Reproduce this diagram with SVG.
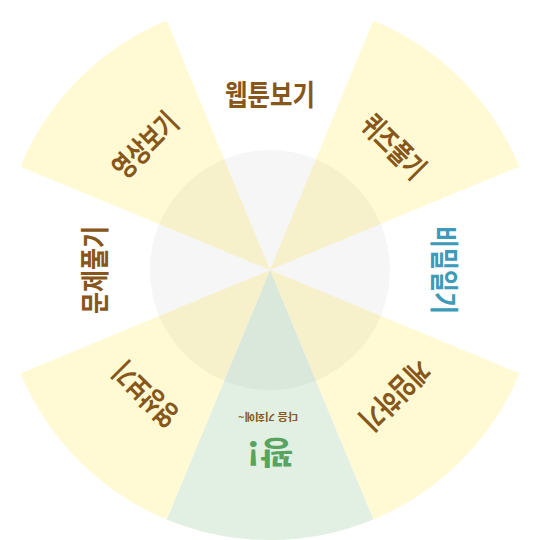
<svg xmlns="http://www.w3.org/2000/svg" width="540" height="540" viewBox="0 0 540 540">
<style>
.y{fill:#fffad3}
.w{fill:#ffffff}
.g{fill:#e2f0e3}
.lbl{font-family:"Noto Sans CJK KR","Noto Sans",sans-serif;font-weight:700;font-size:29px;fill:#86561a;text-anchor:middle}
.blue{fill:#3d9ab8}
.green{fill:#57a35f;font-size:32px}
.small{font-size:10px}
</style>
<rect width="540" height="540" fill="#ffffff"/>
<g id="seg-top">
<path class="w" d="M270 270 L166.68 20.55 A270 270 0 0 1 373.32 20.55 Z"/>
<text class="lbl" x="270" y="106" textLength="90" lengthAdjust="spacingAndGlyphs">웹툰보기</text>
</g>
<g id="seg-top-right">
<path class="y" d="M270 270 L373.32 20.55 A270 270 0 0 1 519.45 166.68 Z"/>
<text class="lbl" x="270" y="106" textLength="77" lengthAdjust="spacingAndGlyphs" transform="rotate(45 270 270)">퀴즈풀기</text>
</g>
<g id="seg-right">
<path class="w" d="M270 270 L519.45 166.68 A270 270 0 0 1 519.45 373.32 Z"/>
<text class="lbl blue" x="270" y="107" textLength="88" lengthAdjust="spacingAndGlyphs" transform="rotate(90 270 270)">비밀일기</text>
</g>
<g id="seg-bottom-right">
<path class="y" d="M270 270 L519.45 373.32 A270 270 0 0 1 373.32 519.45 Z"/>
<text class="lbl" x="270" y="104" textLength="85" lengthAdjust="spacingAndGlyphs" transform="rotate(135 270 270)">게임하기</text>
</g>
<g id="seg-bottom">
<path class="g" d="M270 270 L373.32 519.45 A270 270 0 0 1 166.68 519.45 Z"/>
<text class="lbl green" x="270" y="99" textLength="47" lengthAdjust="spacingAndGlyphs" transform="rotate(180 270 270)">꽝!</text>
<text class="lbl small" x="272" y="127" textLength="60" lengthAdjust="spacingAndGlyphs" transform="rotate(180 270 270)">다음 기회에~</text>
</g>
<g id="seg-bottom-left">
<path class="y" d="M270 270 L166.68 519.45 A270 270 0 0 1 20.55 373.32 Z"/>
<text class="lbl" x="270" y="105" textLength="78" lengthAdjust="spacingAndGlyphs" transform="rotate(225 270 270)">영상보기</text>
</g>
<g id="seg-left">
<path class="w" d="M270 270 L20.55 373.32 A270 270 0 0 1 20.55 166.68 Z"/>
<text class="lbl" x="270" y="106" textLength="88" lengthAdjust="spacingAndGlyphs" transform="rotate(270 270 270)">문제풀기</text>
</g>
<g id="seg-top-left">
<path class="y" d="M270 270 L20.55 166.68 A270 270 0 0 1 166.68 20.55 Z"/>
<text class="lbl" x="270" y="104" textLength="79" lengthAdjust="spacingAndGlyphs" transform="rotate(315 270 270)">영상보기</text>
</g>
<g id="hub">
<circle cx="270" cy="270" r="120" fill="#000000" fill-opacity="0.035"/>
</g>
<g id="connectors"/>
</svg>
